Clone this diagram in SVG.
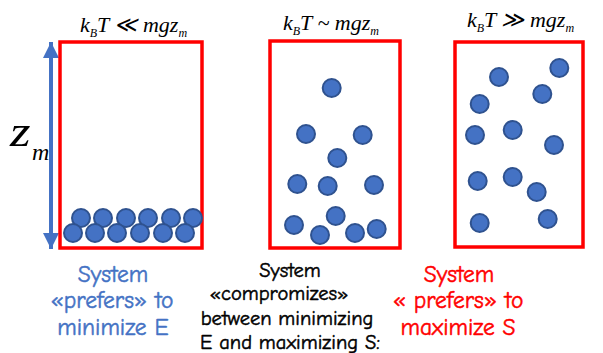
<svg xmlns="http://www.w3.org/2000/svg" width="603" height="353" viewBox="0 0 603 353">
<style>
.box{fill:#fff;stroke:#FF0000;stroke-width:3.5}
.p{fill:#4472C4;stroke:#2F528F;stroke-width:2}
.eq{font-family:"Liberation Serif","DejaVu Serif",serif;font-style:italic;font-size:22px;fill:#000}
.sub{font-size:12px}
.lbl{font-family:"Comic Neue","DejaVu Sans","Noto Sans",sans-serif;text-anchor:middle;stroke-width:0.5}
.blue{fill:#4472C4;stroke:#4472C4;font-size:23.5px}
.red{fill:#FF0000;stroke:#FF0000;font-size:23.5px}
.blk{fill:#000;stroke:#000;font-size:20.5px}
</style>
<defs>
<marker id="ah" viewBox="0 0 16 16" refX="16" refY="8" markerWidth="16" markerHeight="16" markerUnits="userSpaceOnUse" orient="auto-start-reverse">
<path d="M0,0 L16,8 L0,16 Z" fill="#4472C4"/>
</marker>
</defs>
<rect width="603" height="353" fill="#fff"/>
<g id="connectors">
<line x1="51" y1="42" x2="51" y2="249" stroke="#4472C4" stroke-width="4" marker-start="url(#ah)" marker-end="url(#ah)"/>
</g>
<g id="zm-label">
<text transform="translate(10,146) scale(1.2,1)" font-family="Liberation Serif,serif" font-style="italic" font-size="44">z</text>
<text x="32" y="160" font-family="Liberation Serif,serif" font-style="italic" font-size="24">m</text>
</g>
<g id="box-low">
<rect class="box" x="60" y="42" width="142" height="206"/>
<text class="eq" x="80" y="32">k<tspan class="sub" dy="5">B</tspan><tspan dy="-5">T ≪ mgz</tspan><tspan class="sub" dy="5">m</tspan></text>
<circle class="p" cx="81" cy="218" r="9"/><circle class="p" cx="103" cy="218" r="9"/><circle class="p" cx="126" cy="218" r="9"/><circle class="p" cx="148" cy="218" r="9"/><circle class="p" cx="171" cy="218" r="9"/><circle class="p" cx="193" cy="218" r="9"/>
<circle class="p" cx="73" cy="233" r="9"/><circle class="p" cx="95" cy="233" r="9"/><circle class="p" cx="117" cy="233" r="9"/><circle class="p" cx="140" cy="233" r="9"/><circle class="p" cx="163" cy="233" r="9"/><circle class="p" cx="185" cy="233" r="9"/>
<text class="lbl blue" x="113" y="282">System</text>
<text class="lbl blue" x="112" y="308">«prefers» to</text>
<text class="lbl blue" x="113" y="335">minimize E</text>
</g>
<g id="box-mid">
<rect class="box" x="270" y="41" width="130" height="207"/>
<text class="eq" x="283" y="30">k<tspan class="sub" dy="5">B</tspan><tspan dy="-5">T ~ mgz</tspan><tspan class="sub" dy="5">m</tspan></text>
<circle class="p" cx="331.7" cy="88" r="9"/><circle class="p" cx="306" cy="134" r="9"/><circle class="p" cx="362.7" cy="135" r="9"/><circle class="p" cx="337.3" cy="158" r="9"/><circle class="p" cx="297.3" cy="184" r="9"/><circle class="p" cx="327.7" cy="186" r="9"/><circle class="p" cx="374" cy="185" r="9"/><circle class="p" cx="294" cy="225" r="9"/><circle class="p" cx="335.7" cy="216" r="9"/><circle class="p" cx="320" cy="235" r="9"/><circle class="p" cx="355" cy="233" r="9"/><circle class="p" cx="376.7" cy="229" r="9"/>
<text class="lbl blk" x="290" y="277">System</text>
<text class="lbl blk" x="279" y="300">«compromizes»</text>
<text class="lbl blk" x="287" y="325">between minimizing</text>
<text class="lbl blk" x="290" y="349">E and maximizing S:</text>
</g>
<g id="box-high">
<rect class="box" x="455" y="42" width="128" height="205"/>
<text class="eq" x="467" y="27">k<tspan class="sub" dy="5">B</tspan><tspan dy="-5">T ≫ mgz</tspan><tspan class="sub" dy="5">m</tspan></text>
<circle class="p" cx="499" cy="77" r="9"/><circle class="p" cx="559.3" cy="68" r="9"/><circle class="p" cx="542.3" cy="94" r="9"/><circle class="p" cx="479.7" cy="104" r="9"/><circle class="p" cx="475" cy="135" r="9"/><circle class="p" cx="512.7" cy="130" r="9"/><circle class="p" cx="554" cy="145" r="9"/><circle class="p" cx="477.7" cy="181" r="9"/><circle class="p" cx="512.7" cy="177" r="9"/><circle class="p" cx="536.7" cy="192" r="9"/><circle class="p" cx="479.7" cy="223" r="9"/><circle class="p" cx="547.7" cy="219" r="9"/>
<text class="lbl red" x="459" y="282">System</text>
<text class="lbl red" x="458" y="308">« prefers» to</text>
<text class="lbl red" x="458" y="335">maximize S</text>
</g>
</svg>
